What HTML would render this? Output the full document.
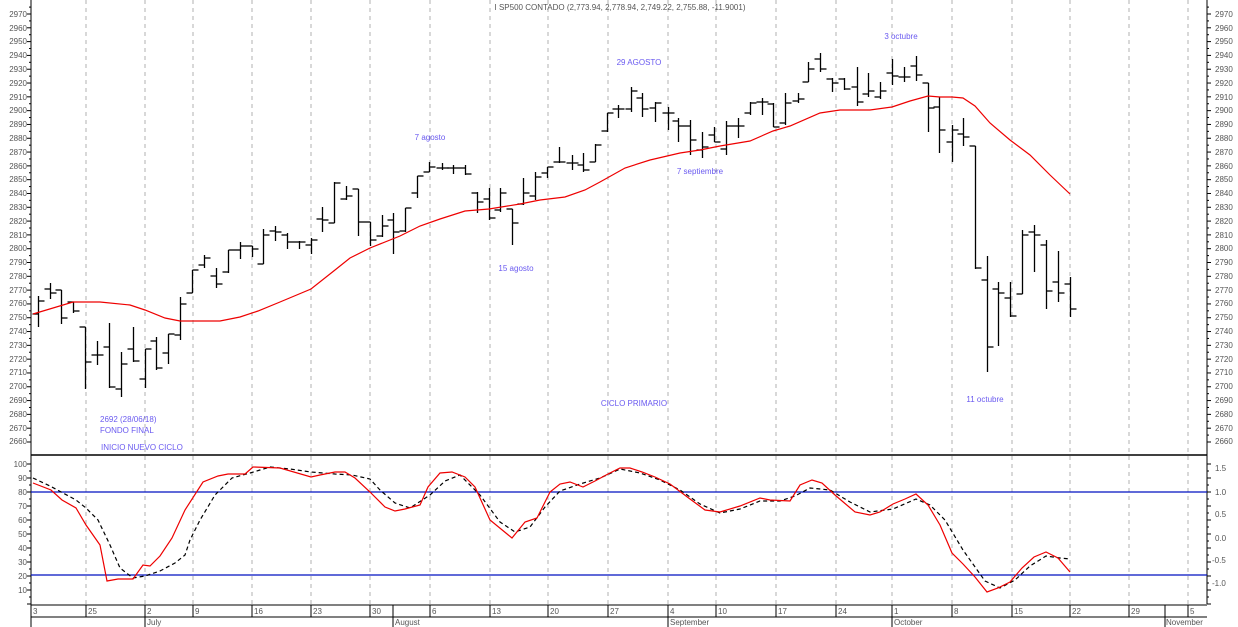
<!DOCTYPE html>
<html><head><meta charset="utf-8"><style>
body{margin:0;background:#fff;}
svg{display:block;font-family:"Liberation Sans",sans-serif;}
.ax{font-size:8px;fill:#555;}
.an{font-size:8px;fill:#6a5af0;}
</style></head><body>
<svg id="s" width="1238" height="627" viewBox="0 0 1238 627" xmlns="http://www.w3.org/2000/svg">
<g id="grid"></g>
<line x1="31" y1="0" x2="31" y2="627" stroke="#000"/>
<line x1="1207" y1="0" x2="1207" y2="604" stroke="#000"/>
<line x1="31" y1="455" x2="1207" y2="455" stroke="#000" stroke-width="1.5"/>
<line x1="31" y1="492" x2="1207" y2="492" stroke="#0010c0" stroke-width="1.2"/>
<line x1="31" y1="575" x2="1207" y2="575" stroke="#0010c0" stroke-width="1.2"/>
<line x1="31" y1="605" x2="1207" y2="605" stroke="#000"/>
<line x1="31" y1="617" x2="1207" y2="617" stroke="#000"/>
<g id="ticks"></g>
<g id="bars" stroke="#000" stroke-width="1.3"></g>
<polyline id="ma" fill="none" stroke="#e00" stroke-width="1.2"/>
<polyline id="k" fill="none" stroke="#000" stroke-width="1.2" stroke-dasharray="4,3"/>
<polyline id="r" fill="none" stroke="#e00" stroke-width="1.2"/>
<text class="ax" x="620" y="10" text-anchor="middle">I SP500 CONTADO (2,773.94, 2,778.94, 2,749.22, 2,755.88, -11.9001)</text>
<text class="an" x="430" y="140" text-anchor="middle">7 agosto</text>
<text class="an" x="639" y="65" text-anchor="middle">29 AGOSTO</text>
<text class="an" x="901" y="39" text-anchor="middle">3 octubre</text>
<text class="an" x="700" y="174" text-anchor="middle">7 septiembre</text>
<text class="an" x="516" y="271" text-anchor="middle">15 agosto</text>
<text class="an" x="634" y="406" text-anchor="middle">CICLO PRIMARIO</text>
<text class="an" x="985" y="402" text-anchor="middle">11 octubre</text>
<text class="an" x="100" y="422">2692 (28/06/18)</text>
<text class="an" x="100" y="433">FONDO FINAL</text>
<text class="an" x="101" y="450">INICIO NUEVO CICLO</text>
<g class="ax">
<text x="33" y="614">3</text><text x="88" y="614">25</text><text x="147" y="614">2</text><text x="195" y="614">9</text>
<text x="254" y="614">16</text><text x="313" y="614">23</text><text x="372" y="614">30</text><text x="432" y="614">6</text>
<text x="492" y="614">13</text><text x="550" y="614">20</text><text x="610" y="614">27</text><text x="670" y="614">4</text>
<text x="718" y="614">10</text><text x="778" y="614">17</text><text x="838" y="614">24</text><text x="894" y="614">1</text>
<text x="954" y="614">8</text><text x="1014" y="614">15</text><text x="1072" y="614">22</text><text x="1131" y="614">29</text>
<text x="1190" y="614">5</text>
<text x="147" y="625">July</text><text x="395" y="625">August</text><text x="670" y="625">September</text>
<text x="894" y="625">October</text><text x="1166" y="625">November</text>
<text x="1215" y="471">1.5</text><text x="1215" y="495">1.0</text><text x="1215" y="517">0.5</text>
<text x="1215" y="541">0.0</text><text x="1212" y="563">-0.5</text><text x="1212" y="586">-1.0</text>
<text x="27" y="467" text-anchor="end">100</text><text x="27" y="481" text-anchor="end">90</text>
<text x="27" y="495" text-anchor="end">80</text><text x="27" y="509" text-anchor="end">70</text>
<text x="27" y="523" text-anchor="end">60</text><text x="27" y="537" text-anchor="end">50</text>
<text x="27" y="551" text-anchor="end">40</text><text x="27" y="565" text-anchor="end">30</text>
<text x="27" y="579" text-anchor="end">20</text><text x="27" y="593" text-anchor="end">10</text>
</g>
<g class="ax" id="plabels">
<text x="27" y="17" text-anchor="end">2970</text><text x="27" y="31" text-anchor="end">2960</text><text x="27" y="44" text-anchor="end">2950</text><text x="27" y="58" text-anchor="end">2940</text><text x="27" y="72" text-anchor="end">2930</text><text x="27" y="86" text-anchor="end">2920</text><text x="27" y="100" text-anchor="end">2910</text><text x="27" y="113" text-anchor="end">2900</text><text x="27" y="127" text-anchor="end">2890</text><text x="27" y="141" text-anchor="end">2880</text><text x="27" y="155" text-anchor="end">2870</text><text x="27" y="169" text-anchor="end">2860</text><text x="27" y="182" text-anchor="end">2850</text><text x="27" y="196" text-anchor="end">2840</text><text x="27" y="210" text-anchor="end">2830</text><text x="27" y="224" text-anchor="end">2820</text><text x="27" y="238" text-anchor="end">2810</text><text x="27" y="251" text-anchor="end">2800</text><text x="27" y="265" text-anchor="end">2790</text><text x="27" y="279" text-anchor="end">2780</text><text x="27" y="293" text-anchor="end">2770</text><text x="27" y="306" text-anchor="end">2760</text><text x="27" y="320" text-anchor="end">2750</text><text x="27" y="334" text-anchor="end">2740</text><text x="27" y="348" text-anchor="end">2730</text><text x="27" y="362" text-anchor="end">2720</text><text x="27" y="375" text-anchor="end">2710</text><text x="27" y="389" text-anchor="end">2700</text><text x="27" y="403" text-anchor="end">2690</text><text x="27" y="417" text-anchor="end">2680</text><text x="27" y="431" text-anchor="end">2670</text><text x="27" y="444" text-anchor="end">2660</text>
<text x="1215" y="17">2970</text><text x="1215" y="31">2960</text><text x="1215" y="44">2950</text><text x="1215" y="58">2940</text><text x="1215" y="72">2930</text><text x="1215" y="86">2920</text><text x="1215" y="100">2910</text><text x="1215" y="113">2900</text><text x="1215" y="127">2890</text><text x="1215" y="141">2880</text><text x="1215" y="155">2870</text><text x="1215" y="169">2860</text><text x="1215" y="182">2850</text><text x="1215" y="196">2840</text><text x="1215" y="210">2830</text><text x="1215" y="224">2820</text><text x="1215" y="238">2810</text><text x="1215" y="251">2800</text><text x="1215" y="265">2790</text><text x="1215" y="279">2780</text><text x="1215" y="293">2770</text><text x="1215" y="306">2760</text><text x="1215" y="320">2750</text><text x="1215" y="334">2740</text><text x="1215" y="348">2730</text><text x="1215" y="362">2720</text><text x="1215" y="375">2710</text><text x="1215" y="389">2700</text><text x="1215" y="403">2690</text><text x="1215" y="417">2680</text><text x="1215" y="431">2670</text><text x="1215" y="444">2660</text>
</g>
</svg>
<script>
var NS="http://www.w3.org/2000/svg";
function el(p,t,a){var e=document.createElementNS(NS,t);for(var k in a)e.setAttribute(k,a[k]);p.appendChild(e);return e;}
var G=[86,145,193,252,311,370,430,490,548,608,668,716,776,836,892,952,1012,1070,1129,1188];
var g=document.getElementById('grid'),tk=document.getElementById('ticks');
G.forEach(function(x){el(g,'line',{x1:x,y1:0,x2:x,y2:604,stroke:'#b0b0b0','stroke-dasharray':'4,4'});el(tk,'line',{x1:x,y1:605,x2:x,y2:617,stroke:'#000'});});
[145,393,668,892,1165].forEach(function(x){el(tk,'line',{x1:x,y1:605,x2:x,y2:627,stroke:'#000'});});
for(var p=2660;p<=2975;p+=5){var y=14+(2970-p)*1.3806;var w=p%10==0?4:2;el(tk,'line',{x1:31-w,y1:y,x2:31,y2:y,stroke:'#000'});el(tk,'line',{x1:1207,y1:y,x2:1207+w,y2:y,stroke:'#000'});}
for(var v=0;v<=100;v+=5){var y=464+(100-v)*1.4;var w=v%10==0?4:2;el(tk,'line',{x1:31-w,y1:y,x2:31,y2:y,stroke:'#000'});el(tk,'line',{x1:1207,y1:y,x2:1207+w,y2:y,stroke:'#000'});}
var B=[[38,296,327,314,301],[50,283,299,289,293],[61,290,324,290,318],[73,302,313,302,311],[85,327,389,327,362],[97,341,365,355,355],[109,323,388,347,387],[121,352,397,389,364],[133,327,362,349,361],[145,349,388,379,349],[156,337,370,341,368],[168,334,364,353,334],[180,297,340,335,304],[192,270,293,293,270],[204,255,268,265,258],[216,268,288,276,284],[228,250,273,272,250],[240,242,259,250,246],[252,246,257,246,249],[263,229,264,264,235],[275,226,241,231,232],[287,233,249,235,242],[299,241,249,242,242],[311,238,254,245,240],[322,207,232,219,220],[334,182,223,223,183],[346,186,200,199,196],[358,189,236,189,222],[370,222,246,222,240],[382,215,237,236,226],[393,213,254,220,232],[405,208,232,231,208],[417,176,198,193,176],[429,162,172,172,167],[442,163,170,168,168],[453,165,174,168,168],[465,165,175,168,174],[477,192,213,193,202],[489,188,220,199,218],[500,188,212,210,193],[512,209,245,209,223],[523,178,205,204,193],[535,172,200,196,177],[547,167,178,173,167],[559,147,163,162,162],[572,155,170,163,163],[583,153,172,165,170],[595,144,162,162,145],[607,113,132,131,113],[618,105,118,109,109],[631,87,112,109,91],[642,93,117,98,109],[655,102,122,108,103],[668,107,130,113,113],[678,118,142,121,126],[690,120,155,126,140],[702,132,158,150,147],[714,127,142,135,142],[726,121,155,149,126],[738,118,138,126,126],[750,102,115,113,103],[762,98,115,102,102],[773,103,127,104,127],[785,93,125,123,103],[798,93,103,101,99],[808,62,82,82,69],[820,53,72,59,69],[832,78,92,79,83],[844,78,90,79,89],[857,67,106,87,102],[868,73,97,94,91],[880,82,99,97,91],[892,59,85,73,76],[904,67,82,77,77],[916,56,81,66,75],[928,83,132,83,108],[939,97,153,107,130],[952,125,162,142,130],[963,118,146,134,137],[975,146,269,146,268],[987,256,372,280,347],[998,282,346,289,293],[1010,282,317,298,316],[1022,230,294,294,235],[1034,225,272,232,235],[1046,240,309,245,291],[1058,251,302,282,293],[1070,277,317,284,309]];
var bg=document.getElementById('bars');
B.forEach(function(b){var x=b[0]+0.5;el(bg,'line',{x1:x,y1:b[1],x2:x,y2:b[2]});el(bg,'line',{x1:x-6,y1:b[3],x2:x,y2:b[3]});el(bg,'line',{x1:x,y1:b[4],x2:x+6,y2:b[4]});});
document.getElementById('ma').setAttribute('points',"33,314 73,302 85,302 100,302 130,305 145,310 165,318 180,321 190,321 220,321 240,317 258,311 280,302 311,289 335,270 350,258 370,248 400,236 420,226 440,219 465,211 489,209 520,204 540,200 565,197 585,190 600,182 625,168 650,160 680,153 700,150 720,146 750,141 773,131 790,126 820,113 840,110 870,110 892,107 910,101 928,96 940,97 952,97 963,98 975,106 990,123 1010,140 1030,155 1050,175 1070,194");
document.getElementById('r').setAttribute('points',"33,483 51,490 62,500 76,508 86,525 100,545 107,581 118,579 133,579 143,565 150,566 160,556 172,538 185,510 203,482 218,476 228,474 245,474 253,467 280,468 311,477 320,475 335,472 345,472 355,478 370,492 385,507 395,511 405,509 420,505 428,487 440,473 452,472 465,477 475,487 490,520 512,538 525,522 537,518 550,492 560,484 570,482 583,487 595,481 608,474 620,468 630,468 642,472 655,477 670,484 690,499 705,510 720,512 740,506 760,498 770,500 790,501 800,485 812,480 822,483 835,495 855,512 870,515 880,512 893,504 905,499 916,494 928,505 940,525 952,553 963,564 975,577 987,592 998,588 1010,582 1022,568 1034,557 1046,552 1058,558 1070,572");
document.getElementById('k').setAttribute('points',"33,478 50,486 63,493 76,500 86,508 98,520 110,545 120,568 133,578 145,576 160,571 175,563 185,555 190,540 200,520 215,495 232,478 250,473 270,467 290,469 311,472 335,474 352,475 370,479 380,490 395,503 410,508 430,495 445,481 460,475 480,495 500,522 515,532 530,527 545,507 560,491 580,484 600,478 620,469 640,473 660,480 680,490 700,504 720,513 740,509 760,501 780,501 795,496 810,488 830,490 850,502 870,512 893,509 916,499 930,505 945,520 963,550 985,581 1000,588 1015,580 1030,566 1046,556 1060,558 1070,559");
</script>
</body></html>
